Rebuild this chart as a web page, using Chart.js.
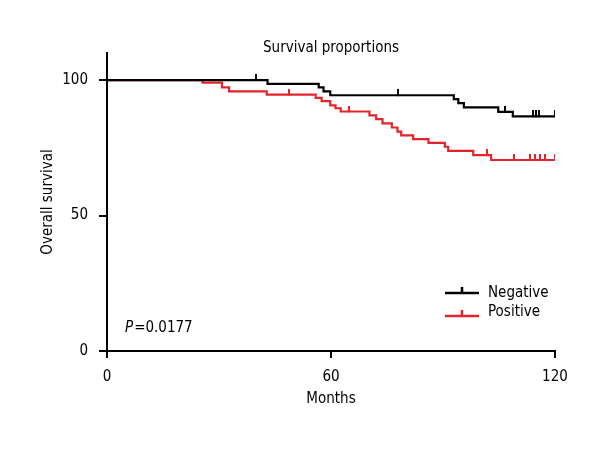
<!DOCTYPE html>
<html>
<head>
<meta charset="utf-8">
<script src="https://cdn.jsdelivr.net/npm/chart.js@4.4.1/dist/chart.umd.min.js"></script>
<style>
  html, body { margin: 0; padding: 0; background: #fff; }
  #wrap { width: 610px; height: 450px; }
</style>
</head>
<body>
<div id="wrap"><canvas id="c" width="610" height="450"></canvas></div>
<script>
// ---- data ----
const negTimes = [0, 43.0, 56.7, 58.0, 59.8, 92.9, 94.1, 95.6, 104.8, 108.7, 120];
const negSurv  = [100, 98.6, 97.3, 95.8, 94.4, 93.0, 91.5, 89.9, 88.3, 86.6, 86.6];
const negCensor = [39.8, 77.9, 106.6, 114.0, 114.9, 115.8, 120];

const posTimes = [0, 25.6, 30.8, 32.7, 42.8, 55.9, 57.5, 59.8, 61.2, 62.6, 70.3, 72.1, 73.8, 76.3, 77.8, 78.8, 82.0, 86.1, 90.5, 91.4, 98.1, 102.9, 120];
const posSurv  = [100, 99.1, 97.3, 95.8, 94.6, 93.4, 92.2, 90.7, 89.6, 88.4, 87.0, 85.6, 84.0, 82.5, 81.0, 79.6, 78.2, 76.8, 75.4, 73.9, 72.3, 70.5, 70.5];
const posCensor = [48.8, 64.9, 101.9, 109.0, 113.3, 114.6, 116.0, 117.3, 120];

const xTicks = [0, 60, 120];
const yTicks = [0, 50, 100];
const seriesNames = ['Negative', 'Positive'];
const pText = '0.0177';

const FONT = "'DejaVu Sans Condensed', 'Liberation Sans Narrow', sans-serif";
const FS = 15;
const BLACK = '#000000';
const RED = '#e3242b';

function toPoints(ts, ss) { return ts.map((t, i) => ({x: t, y: ss[i]})); }
function survAt(ts, ss, t) {
  let v = ss[0];
  for (let i = 0; i < ts.length; i++) { if (ts[i] <= t) v = ss[i]; }
  return v;
}
function censorPts(cs, ts, ss) { return cs.map(t => ({x: t, y: survAt(ts, ss, t)})); }

function tickImage(color) {
  const cv = document.createElement('canvas');
  cv.width = 2; cv.height = 12;
  const cx = cv.getContext('2d');
  cx.fillStyle = color;
  cx.fillRect(0, 0, 2, 6.5);
  return cv;
}
const tickBlack = tickImage(BLACK);
const tickRed = tickImage(RED);

const overlay = {
  id: 'overlay',
  afterDraw(chart) {
    const ctx = chart.ctx;
    const ca = chart.chartArea;
    ctx.save();
    // title
    ctx.fillStyle = BLACK;
    ctx.font = FS + 'px ' + FONT;
    ctx.textAlign = 'center';
    ctx.textBaseline = 'middle';
    ctx.fillText('Survival proportions', (ca.left + ca.right) / 2, 48);
    // legend
    const items = [{name: seriesNames[0], color: BLACK, y: 293, ty: 293},
                   {name: seriesNames[1], color: RED, y: 316, ty: 312}];
    items.forEach(it => {
      ctx.strokeStyle = it.color;
      ctx.lineWidth = 2.5;
      ctx.beginPath();
      ctx.moveTo(445, it.y); ctx.lineTo(479, it.y);
      ctx.moveTo(462, it.y); ctx.lineTo(462, it.y - 6);
      ctx.stroke();
      ctx.fillStyle = BLACK;
      ctx.textAlign = 'left';
      ctx.textBaseline = 'middle';
      ctx.font = FS + 'px ' + FONT;
      ctx.fillText(it.name, 488, it.ty);
    });
    // p value
    const px = 125, py = 328;
    ctx.textAlign = 'left';
    ctx.textBaseline = 'middle';
    ctx.font = 'italic ' + FS + 'px ' + FONT;
    ctx.fillText('P', px, py);
    const w = ctx.measureText('P').width;
    ctx.font = FS + 'px ' + FONT;
    ctx.fillText('=' + pText, px + w + 1, py);
    ctx.restore();
  }
};

new Chart(document.getElementById('c'), {
  type: 'scatter',
  data: {
    datasets: [
      { label: seriesNames[0] + ' censored', data: censorPts(negCensor, negTimes, negSurv),
        pointStyle: tickBlack, pointRadius: 4, showLine: false, order: 0 },
      { label: seriesNames[0], data: toPoints(negTimes, negSurv), showLine: true, stepped: true,
        borderColor: BLACK, borderWidth: 2.2, pointRadius: 0, fill: false, order: 1 },
      { label: seriesNames[1] + ' censored', data: censorPts(posCensor, posTimes, posSurv),
        pointStyle: tickRed, pointRadius: 4, showLine: false, order: 2 },
      { label: seriesNames[1], data: toPoints(posTimes, posSurv), showLine: true, stepped: true,
        borderColor: RED, borderWidth: 2.2, pointRadius: 0, fill: false, order: 3 }
    ]
  },
  options: {
    responsive: false,
    animation: false,
    events: [],
    layout: { padding: { top: 53, right: 55, bottom: 0, left: 0 } },
    plugins: { legend: { display: false }, title: { display: false }, tooltip: { enabled: false } },
    scales: {
      x: {
        type: 'linear', min: 0, max: 120,
        afterBuildTicks(s) { s.ticks = xTicks.map(v => ({value: v})); },
        afterFit(s) { s.height = 99; },
        border: { display: true, color: BLACK, width: 2 },
        grid: { drawOnChartArea: false, drawTicks: true, tickLength: 7, color: BLACK, lineWidth: 2 },
        ticks: { color: BLACK, font: { family: FONT, size: FS, lineHeight: 1 }, padding: 12, maxRotation: 0 },
        title: { display: true, text: 'Months', color: BLACK, font: { family: FONT, size: FS, lineHeight: 1.2 },
                 padding: { top: 0, bottom: 42 } }
      },
      y: {
        type: 'linear', min: 0, max: 110,
        afterBuildTicks(s) { s.ticks = yTicks.map(v => ({value: v})); },
        afterFit(s) { s.width = 107; },
        border: { display: true, color: BLACK, width: 2 },
        grid: { drawOnChartArea: false, drawTicks: true, tickLength: 8, color: BLACK, lineWidth: 2 },
        ticks: { color: BLACK, font: { family: FONT, size: FS, lineHeight: 1.2 }, padding: 11 },
        title: { display: true, text: 'Overall survival', color: BLACK, font: { family: FONT, size: FS, lineHeight: 1.2 },
                 padding: { top: 39, bottom: 0 } }
      }
    }
  },
  plugins: [overlay]
});
</script>
</body>
</html>
